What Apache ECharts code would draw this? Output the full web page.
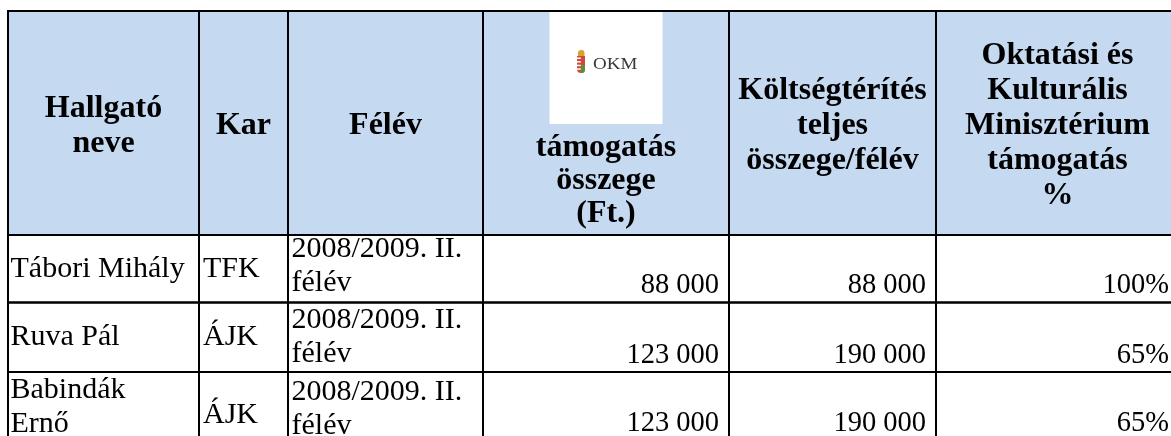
<!DOCTYPE html>
<html>
<head>
<meta charset="utf-8">
<script src="https://cdn.jsdelivr.net/npm/echarts@6.0.0/dist/echarts.min.js"></script>
<style>
  html, body { margin: 0; padding: 0; background: #fff; }
  #chart { width: 1171px; height: 436px; }
</style>
</head>
<body>
<div id="chart"></div>
<script>
// table content
const headers = [
    'Hallgató\nneve',
    'Kar',
    'Félév',
    'támogatás\nösszege\n(Ft.)',
    'Költségtérítés\nteljes\nösszege/félév',
    'Oktatási és\nKulturális\nMinisztérium\ntámogatás\n%'
];
const students = ['Tábori Mihály', 'Ruva Pál', 'Babindák\nErnő'];
const faculties = ['TFK', 'ÁJK', 'ÁJK'];
const semesters = ['2008/2009. II.\nfélév', '2008/2009. II.\nfélév', '2008/2009. II.\nfélév'];
const support = [88000, 123000, 123000];
const totalCost = [88000, 190000, 190000];
const supportPct = [100, 65, 65];

// layout (pixel units on the hidden axes; last edges run past the visible area)
const colEdges = [0, 191, 280, 475, 721, 928, 1171];
const rowEdges = [0, 224, 291.5, 361, 429];
const textTop = [-2.5, 1, 3.5];
const midShift = [0, 0, 9];

const SERIF = '"Liberation Serif", "Times New Roman", serif';
const HEAD_BG = '#c5d9f1';

function fmt(n) {
    return String(n).replace(/\B(?=(\d{3})+(?!\d))/g, ' ');
}

let cells = [];
headers.forEach(function (h, c) {
    cells.push({ col: c, row: 0, text: h });
});
students.forEach(function (name, i) {
    let r = i + 1;
    cells.push({ col: 0, row: r, text: name });
    cells.push({ col: 1, row: r, text: faculties[i] });
    cells.push({ col: 2, row: r, text: semesters[i] });
    cells.push({ col: 3, row: r, text: fmt(support[i]) });
    cells.push({ col: 4, row: r, text: fmt(totalCost[i]) });
    cells.push({ col: 5, row: r, text: supportPct[i] + '%' });
});

function logoParts(cx, top) {
    let parts = [
        { type: 'rect', shape: { x: cx - 56.5, y: top + 1, width: 113, height: 112 }, style: { fill: '#fff' }, z2: 2 },
        { type: 'rect', shape: { x: cx - 28, y: top + 39, width: 6.5, height: 6.5, r: [3, 3, 0, 0] }, style: { fill: '#d9a22b' }, z2: 3 },
        { type: 'rect', shape: { x: cx - 29, y: top + 45, width: 8, height: 17, r: [0, 0, 4, 4] }, style: { fill: '#cf4a3c' }, z2: 3 },
        { type: 'rect', shape: { x: cx - 25, y: top + 54, width: 4, height: 8, r: [0, 0, 3.5, 0] }, style: { fill: '#5b8f3c' }, z2: 4 },
        {
            type: 'text', x: cx - 13, y: top + 53.5, z2: 4, scaleX: 1.15,
            style: { text: 'OKM', fontFamily: SERIF, fontSize: 16.5, fill: '#3a3a3a', align: 'left', verticalAlign: 'middle' }
        }
    ];
    for (let i = 0; i < 4; i++) {
        parts.push({ type: 'rect', shape: { x: cx - 29, y: top + 46.5 + i * 3.6, width: 3.8, height: 1.5 }, style: { fill: '#fff' }, z2: 4 });
    }
    return parts;
}

function textFor(cell, x0, y0, x1, y1) {
    let c = cell.col, r = cell.row;
    let cx = (x0 + x1) / 2, cy = (y0 + y1) / 2;
    let style = { text: cell.text, fontFamily: SERIF, fill: '#000' };
    let x, y;
    if (r === 0) {
        style.fontSize = 32;
        style.fontWeight = 'bold';
        style.align = 'center';
        x = cx;
        if (c === 3) {
            style.verticalAlign = 'bottom';
            style.lineHeight = 33;
            y = y1 - 5;
        } else {
            style.verticalAlign = 'middle';
            style.lineHeight = 35;
            y = cy + 3;
        }
    } else {
        let i = r - 1;
        style.fontSize = 30;
        style.lineHeight = 33.5;
        if (c === 0) {
            style.align = 'left';
            x = x0 + 2.5;
            if (cell.text.indexOf('\n') >= 0) {
                style.verticalAlign = 'top';
                y = y0 + textTop[i] - 2;
            } else {
                style.verticalAlign = 'middle';
                y = cy + midShift[i];
            }
        } else if (c === 1) {
            style.align = 'left';
            style.verticalAlign = 'middle';
            x = x0 + 4;
            y = cy + midShift[i];
        } else if (c === 2) {
            style.align = 'left';
            style.verticalAlign = 'top';
            x = x0 + 3.5;
            y = y0 + textTop[i];
        } else {
            style.fontSize = 28.5;
            style.align = 'right';
            style.verticalAlign = 'bottom';
            x = x1 - 10;
            y = y1;
        }
    }
    return { type: 'text', x: x, y: y, z2: 5, style: style };
}

function renderCell(params, api) {
    let cell = cells[params.dataIndex];
    let c = api.value(0), r = api.value(1);
    let p0 = api.coord([colEdges[c], rowEdges[r]]);
    let p1 = api.coord([colEdges[c + 1], rowEdges[r + 1]]);
    let x0 = p0[0], y0 = p0[1], x1 = p1[0], y1 = p1[1];
    let children = [
        { type: 'rect', shape: { x: x0, y: y0, width: x1 - x0, height: y1 - y0 }, style: { fill: r === 0 ? HEAD_BG : '#fff' }, z2: 0 },
        { type: 'rect', shape: { x: x0, y: y0, width: x1 - x0, height: y1 - y0 }, style: { fill: null, stroke: '#000', lineWidth: 2 }, z2: 10 },
        textFor(cell, x0, y0, x1, y1)
    ];
    if (r === 0 && c === 3) {
        children = children.concat(logoParts((x0 + x1) / 2, y0));
    }
    return { type: 'group', children: children };
}

// the grid covers the visible part only; the axes map 1 unit to 1 px
let chart = echarts.init(document.getElementById('chart'));
chart.setOption({
    backgroundColor: '#fff',
    animation: false,
    grid: { left: 8, top: 11, width: 1163, height: 425 },
    xAxis: { type: 'value', min: 0, max: 1163, show: false },
    yAxis: { type: 'value', min: 0, max: 425, inverse: true, show: false },
    series: [{
        type: 'custom',
        renderItem: renderCell,
        encode: { x: 0, y: 1 },
        data: cells.map(function (cell) { return [cell.col, cell.row]; })
    }]
});
</script>
</body>
</html>
